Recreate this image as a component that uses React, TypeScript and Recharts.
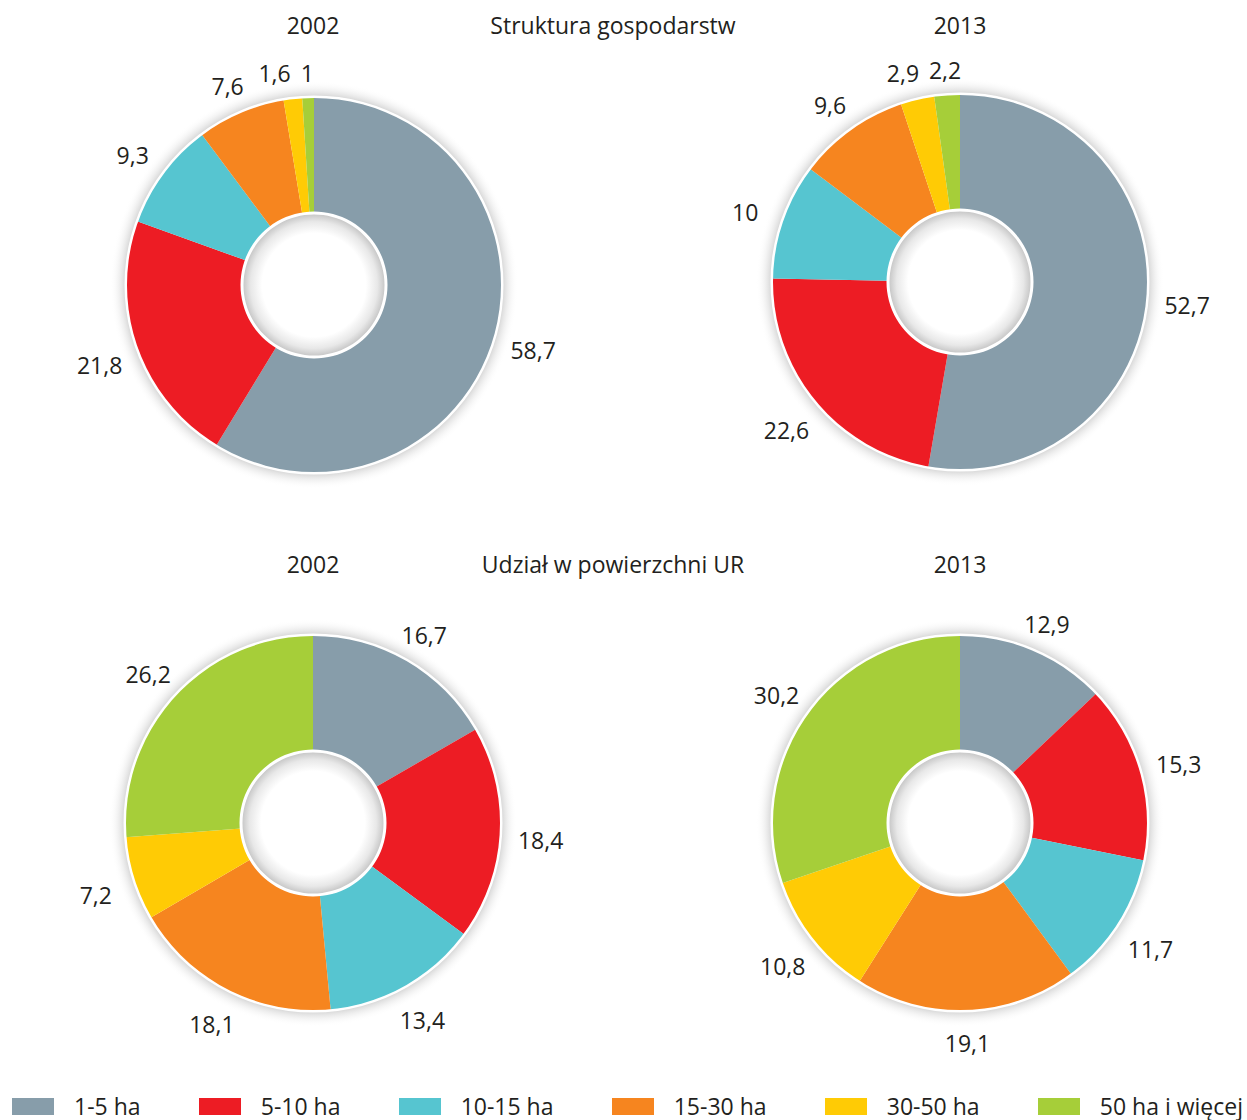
import React from 'react';
import { PieChart, Pie, Cell } from 'recharts';

const CATEGORIES = ['1-5 ha', '5-10 ha', '10-15 ha', '15-30 ha', '30-50 ha', '50 ha i więcej'];
const COLORS = ['#879DAA', '#ED1C24', '#56C5D0', '#F6851F', '#FFCB05', '#A6CE39'];
const FARMS_2002 = [58.7, 21.8, 9.3, 7.6, 1.6, 1];
const FARMS_2013 = [52.7, 22.6, 10, 9.6, 2.9, 2.2];
const AREA_2002 = [16.7, 18.4, 13.4, 18.1, 7.2, 26.2];
const AREA_2013 = [12.9, 15.3, 11.7, 19.1, 10.8, 30.2];
const TITLE_TOP = 'Struktura gospodarstw';
const TITLE_BOTTOM = 'Udział w powierzchni UR';
const YEARS = ['2002', '2013'];

const FONT = '"Open Sans", "Noto Sans", sans-serif';
const TEXT_COLOR = '#231F20';
const FONT_SIZE = 23;
const OUTER_R = 188;
const INNER_R = 72;

const toData = (vals: number[]) => vals.map((v, i) => ({ name: CATEGORIES[i], value: v }));
const fmt = (v: number) => String(v).replace('.', ',');
const textWidth = (s: string) => s.split('').reduce((a, ch) => a + (ch === ',' ? 0.25 : 0.572) * FONT_SIZE, 0);

// label layout: outside the ring along each slice's mid angle, then nudge apart labels that collide
function labelLayout(vals: number[]) {
  const total = vals.reduce((a, b) => a + b, 0);
  let cum = 0;
  const pos = vals.map((v) => {
    const mid = 90 - (360 * (cum + v / 2)) / total;
    cum += v;
    const RAD = Math.PI / 180;
    const c = Math.cos(mid * RAD);
    const s = -Math.sin(mid * RAD);
    const r = OUTER_R + 28 + 12 * Math.abs(c);
    const label = fmt(v);
    return { dx: r * c, dy: r * s + 4, w: textWidth(label), label };
  });
  for (let i = pos.length - 2; i >= 0; i--) {
    const a = pos[i];
    const b = pos[i + 1];
    if (Math.abs(a.dy - b.dy) < FONT_SIZE + 2) {
      const overlap = a.dx + a.w / 2 + 10 - (b.dx - b.w / 2);
      if (overlap > 0 && a.dx < b.dx + 1) a.dx -= overlap;
    }
  }
  return pos;
}

const makeLabel = (vals: number[]) => {
  const layout = labelLayout(vals);
  return (p: any) => {
    const l = layout[p.index];
    return (
      <text
        x={p.cx + l.dx}
        y={p.cy + l.dy}
        textAnchor="middle"
        dominantBaseline="central"
        fill={TEXT_COLOR}
        fontSize={FONT_SIZE}
        fontFamily={FONT}
      >
        {l.label}
      </text>
    );
  };
};

const ONE = [{ value: 1 }];

function donut(vals: number[], cx: number, cy: number, key: string) {
  const common = { cx, cy, startAngle: 90, endAngle: -270, dataKey: 'value', isAnimationActive: false, stroke: 'none' };
  return [
    <Pie key={key + 'sh'} {...common} data={ONE} innerRadius={OUTER_R - 2} outerRadius={OUTER_R + 16} fill="url(#outerShadow)" />,
    <Pie key={key + 'main'} {...common} data={toData(vals)} innerRadius={INNER_R} outerRadius={OUTER_R} label={makeLabel(vals)} labelLine={false}>
      {vals.map((_, i) => (
        <Cell key={i} fill={COLORS[i]} />
      ))}
    </Pie>,
    <Pie key={key + 'ring'} {...common} data={ONE} innerRadius={OUTER_R - 1} outerRadius={OUTER_R + 1.5} fill="#ffffff" />,
    <Pie key={key + 'hole'} {...common} data={ONE} innerRadius={0} outerRadius={INNER_R} fill="url(#holeGrad)" />,
    <Pie key={key + 'holering'} {...common} data={ONE} innerRadius={INNER_R - 1.5} outerRadius={INNER_R + 1.5} fill="#ffffff" />,
  ];
}

const titleStyle = (x: number, y: number): React.CSSProperties => ({
  position: 'absolute',
  left: x,
  top: y,
  transform: 'translate(-50%, -50%)',
  fontFamily: FONT,
  fontSize: FONT_SIZE,
  color: TEXT_COLOR,
  whiteSpace: 'nowrap',
  lineHeight: 1,
});

export default function App() {
  return (
    <div style={{ position: 'absolute', left: 0, top: 0, width: 1247, height: 1120, background: '#fff' }}>
      <PieChart width={1247} height={1120} margin={{ top: 0, right: 0, bottom: 0, left: 0 }}>
        <defs>
          <radialGradient id="outerShadow" cx="50%" cy="50%" r="50%">
            <stop offset="0%" stopColor="#b5b5b5" stopOpacity={0.8} />
            <stop offset="91%" stopColor="#b5b5b5" stopOpacity={0.8} />
            <stop offset="100%" stopColor="#ffffff" stopOpacity={0} />
          </radialGradient>
          <radialGradient id="holeGrad" cx="50%" cy="50%" r="50%">
            <stop offset="0%" stopColor="#ffffff" />
            <stop offset="72%" stopColor="#ffffff" />
            <stop offset="88%" stopColor="#e8e8e8" />
            <stop offset="100%" stopColor="#c2c2c2" />
          </radialGradient>
        </defs>
        {donut(FARMS_2002, 314, 285, 'a')}
        {donut(FARMS_2013, 960, 282, 'b')}
        {donut(AREA_2002, 313, 823, 'c')}
        {donut(AREA_2013, 960, 823, 'd')}
      </PieChart>
      <div style={titleStyle(313, 25)}>{YEARS[0]}</div>
      <div style={titleStyle(613, 25)}>{TITLE_TOP}</div>
      <div style={titleStyle(960, 25)}>{YEARS[1]}</div>
      <div style={titleStyle(313, 564)}>{YEARS[0]}</div>
      <div style={titleStyle(613, 564)}>{TITLE_BOTTOM}</div>
      <div style={titleStyle(960, 564)}>{YEARS[1]}</div>
      <div
        style={{
          position: 'absolute',
          left: 12,
          right: 4,
          top: 1094,
          display: 'flex',
          justifyContent: 'space-between',
          alignItems: 'center',
          fontFamily: FONT,
          fontSize: FONT_SIZE,
          color: TEXT_COLOR,
          height: 24,
        }}
      >
        {CATEGORIES.map((c, i) => (
          <div key={c} style={{ display: 'flex', alignItems: 'center', whiteSpace: 'nowrap' }}>
            <div style={{ width: 42, height: 17, background: COLORS[i], marginRight: 20 }} />
            <span style={{ lineHeight: 1 }}>{c}</span>
          </div>
        ))}
      </div>
    </div>
  );
}
